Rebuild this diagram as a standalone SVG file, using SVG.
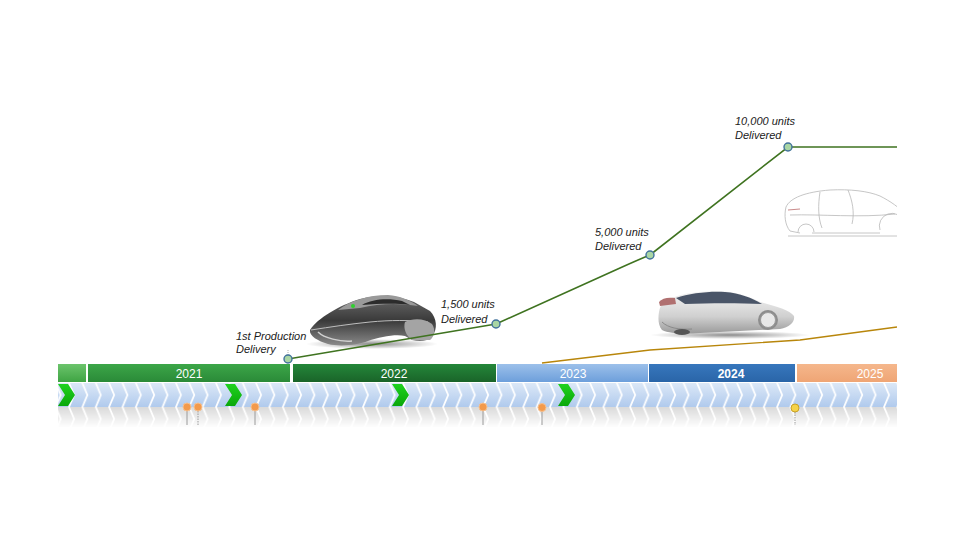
<svg xmlns="http://www.w3.org/2000/svg" width="980" height="551" viewBox="0 0 980 551">
<style>
.lbl{font-family:"Liberation Sans",Arial,sans-serif;font-style:italic;font-size:11px;fill:#1a1a1a}
.yr{font-family:"Liberation Sans",Arial,sans-serif;font-size:12px;fill:#ffffff;text-anchor:middle}
.ms{fill:#a9d6a4;stroke:#41719c;stroke-width:1.4}
.dot{fill:#f39a4c;stroke:#f6c08f;stroke-width:1}
.stem{stroke:#9a9a9a;stroke-width:1}
.sk{fill:none;stroke:#b8b8b8;stroke-width:0.8}
</style>
<defs>
<linearGradient id="gChev" x1="0" y1="0" x2="0" y2="1">
<stop offset="0" stop-color="#dce8f7"/><stop offset="1" stop-color="#b0caed"/>
</linearGradient>
<linearGradient id="gGreen" x1="0" y1="0" x2="0" y2="1">
<stop offset="0" stop-color="#1fd21f"/><stop offset="1" stop-color="#0aa70a"/>
</linearGradient>
<linearGradient id="g0" x1="0" y1="0" x2="0" y2="1"><stop offset="0" stop-color="#6cc46c"/><stop offset="1" stop-color="#3fa443"/></linearGradient>
<linearGradient id="g21" x1="0" y1="0" x2="0" y2="1"><stop offset="0" stop-color="#3ca648"/><stop offset="1" stop-color="#2a8a38"/></linearGradient>
<linearGradient id="g22" x1="0" y1="0" x2="0" y2="1"><stop offset="0" stop-color="#24873a"/><stop offset="1" stop-color="#1a6429"/></linearGradient>
<linearGradient id="g23" x1="0" y1="0" x2="0" y2="1"><stop offset="0" stop-color="#9cc0ea"/><stop offset="1" stop-color="#6d9fdb"/></linearGradient>
<linearGradient id="g24" x1="0" y1="0" x2="0" y2="1"><stop offset="0" stop-color="#3777bd"/><stop offset="1" stop-color="#2a65a8"/></linearGradient>
<linearGradient id="g25" x1="0" y1="0" x2="0" y2="1"><stop offset="0" stop-color="#f5b78c"/><stop offset="1" stop-color="#efa575"/></linearGradient>
<linearGradient id="fade" x1="0" y1="0" x2="0" y2="1"><stop offset="0" stop-color="#fff" stop-opacity="1"/><stop offset="1" stop-color="#fff" stop-opacity="0"/></linearGradient>
<mask id="mFade"><rect x="0" y="406" width="980" height="22" fill="url(#fade)"/></mask>
<pattern id="pChev" patternUnits="userSpaceOnUse" x="70" y="383" width="13.36" height="24">
<path d="M0,0 H11.5 L16.5,12 L11.5,24 H0 L5,12 Z" fill="url(#gChev)"/>
<path d="M-13.36,0 H-1.86 L3.14,12 L-1.86,24 H-13.36 L-8.36,12 Z" fill="url(#gChev)"/>
</pattern>
<pattern id="pRef" patternUnits="userSpaceOnUse" x="70" y="407" width="13.36" height="24">
<path d="M0,24 H11.5 L16.5,12 L11.5,0 H0 L5,12 Z" fill="#d8d8d8"/>
<path d="M-13.36,24 H-1.86 L3.14,12 L-1.86,0 H-13.36 L-8.36,12 Z" fill="#d8d8d8"/>
</pattern>
<linearGradient id="gCar1" x1="0" y1="0" x2="0" y2="1"><stop offset="0" stop-color="#6a6a6a"/><stop offset="0.5" stop-color="#3a3a3a"/><stop offset="1" stop-color="#8a8a8a"/></linearGradient>
<linearGradient id="gCar2" x1="0" y1="0" x2="0" y2="1"><stop offset="0" stop-color="#f4f4f4"/><stop offset="0.6" stop-color="#d0d0d0"/><stop offset="1" stop-color="#9a9a9a"/></linearGradient>
<radialGradient id="gShadow"><stop offset="0" stop-color="#000" stop-opacity="0.45"/><stop offset="1" stop-color="#000" stop-opacity="0"/></radialGradient>
<clipPath id="cR"><rect x="0" y="0" width="897" height="551"/></clipPath>
</defs>
<rect width="980" height="551" fill="#ffffff"/>

<!-- year bar -->
<g id="yearbar">
<rect x="58" y="364" width="28" height="18" fill="url(#g0)"/>
<rect x="88" y="364" width="202" height="18" fill="url(#g21)"/>
<rect x="293" y="364" width="203" height="18" fill="url(#g22)"/>
<rect x="497" y="364" width="151" height="18" fill="url(#g23)"/>
<rect x="649" y="364" width="146" height="18" fill="url(#g24)"/>
<rect x="797" y="364" width="100" height="18" fill="url(#g25)"/>
<text class="yr" x="189" y="377.5">2021</text>
<text class="yr" x="394" y="377.5">2022</text>
<text class="yr" x="573" y="377.5">2023</text>
<text class="yr" x="731" y="378" font-weight="bold" font-size="12.5">2024</text>
<text class="yr" x="870" y="378" font-size="13">2025</text>
</g>

<!-- chevron band -->
<g id="chevrons">
<rect x="58" y="383" width="839" height="24" fill="url(#pChev)"/>
<rect x="58" y="407" width="839" height="20" fill="url(#pRef)" mask="url(#mFade)"/>
<path d="M58,384 H68 L75,395 L68,406 H58 L65,395 Z" fill="url(#gGreen)"/>
<path d="M225,384 H235 L242,395 L235,406 H225 L232,395 Z" fill="url(#gGreen)"/>
<path d="M392,384 H402 L409,395 L402,406 H392 L399,395 Z" fill="url(#gGreen)"/>
<path d="M558,384 H568 L575,395 L568,406 H558 L565,395 Z" fill="url(#gGreen)"/>
</g>

<!-- event markers -->
<g id="events">
<line class="stem" x1="187" y1="411" x2="187" y2="425"/>
<line class="stem" x1="198" y1="411" x2="198" y2="425" stroke-dasharray="1.5,1"/>
<line class="stem" x1="255" y1="411" x2="255" y2="425"/>
<line class="stem" x1="483" y1="411" x2="483" y2="425"/>
<line class="stem" x1="542" y1="411" x2="542" y2="425"/>
<line class="stem" x1="795" y1="412" x2="795" y2="425" stroke-dasharray="1.5,1"/>
<circle class="dot" cx="187" cy="407" r="4"/>
<circle class="dot" cx="198" cy="407" r="4"/>
<circle class="dot" cx="255" cy="407" r="4"/>
<circle class="dot" cx="483" cy="407" r="4"/>
<circle class="dot" cx="542" cy="407.5" r="4"/>
<circle cx="795" cy="408" r="4" fill="#f5d34a" stroke="#c9a227" stroke-width="1"/>
</g>

<!-- cars (pictures) -->
<g id="car1">
<ellipse cx="372" cy="344" rx="66" ry="5" fill="url(#gShadow)"/>
<path d="M310,330 C318,318 338,306 360,299 C378,294 398,295 414,302 L430,311 C437,318 438,329 432,337 C428,341 420,342 412,340 L405,336 C395,334 380,337 368,341 C358,345 340,347 328,344 C318,341 309,336 310,330 Z" fill="url(#gCar1)"/>
<path d="M338,310 C350,301 368,295 388,295 C400,296 410,300 418,306 C400,303 380,303 360,308 Z" fill="#9a9a9a"/>
<path d="M362,305 C372,299 388,298 402,301 L410,305 C395,303 378,304 362,305 Z" fill="#2c2c2c"/>
<path d="M311,330 C330,327 350,324 370,322 C390,320 410,320 428,322" fill="none" stroke="#bdbdbd" stroke-width="1"/>
<path d="M405,322 C412,318 425,318 432,324 C436,330 434,337 430,340 L412,340 C406,336 403,328 405,322 Z" fill="#a4a4a4"/>
<path d="M318,332 C324,338 340,342 352,341" fill="none" stroke="#d0d0d0" stroke-width="1.5"/>
<circle cx="353" cy="306" r="2" fill="#2fd02f"/>
</g>

<g id="car2">
<ellipse cx="730" cy="335" rx="80" ry="4" fill="url(#gShadow)"/>
<path d="M659,312 C660,305 664,300 672,298 C684,293 700,291 718,291 C735,291 748,296 760,302 C775,306 790,310 794,316 C795,322 790,327 780,329 L700,333 C686,334 670,334 662,330 C658,325 658,318 659,312 Z" fill="url(#gCar2)"/>
<path d="M676,298 C690,293 710,291 725,292 C740,293 752,298 762,304 C740,303 710,303 685,304 Z" fill="#4a5568"/>
<path d="M659,302 C662,298 668,297 675,298 L676,304 L660,306 Z" fill="#b07070"/>
<circle cx="768" cy="320" r="10" fill="#8d8d8d"/>
<circle cx="768" cy="320" r="7.5" fill="#e8e8e8" stroke="#9a9a9a" stroke-width="1"/>
<path d="M662,322 C668,328 680,330 692,329" fill="none" stroke="#8a8a8a" stroke-width="1"/>
<ellipse cx="682" cy="332" rx="8" ry="3" fill="#555"/>
</g>

<g id="car3" clip-path="url(#cR)">
<path class="sk" d="M786,207 C790,198 805,192 830,190 C850,189 868,191 880,196 C890,201 900,208 905,214"/>
<path class="sk" d="M786,207 C784,215 785,225 790,231 L800,233"/>
<path class="sk" d="M812,233 L880,233"/>
<path class="sk" d="M798,232 A8,8 0 0 1 814,232"/>
<path class="sk" d="M880,230 A12,12 0 0 1 904,222"/>
<path class="sk" d="M820,192 C818,205 818,218 822,228"/>
<path class="sk" d="M848,190 C852,200 855,212 852,224"/>
<path class="sk" d="M790,215 C820,214 860,218 895,214"/>
<path class="sk" d="M788,236 L900,236"/>
<path d="M788,210 L800,209" stroke="#c98a8a" stroke-width="1"/>
</g>

<!-- connectors -->
<g id="connectors" fill="none">
<path d="M288,359 L496,324 L620,268 Q640,259 650,255 L788,147 L897,147" stroke="#3f7320" stroke-width="1.6"/>
<path d="M542,363 L650,350 L800,340 L897,327" stroke="#b8860b" stroke-width="1.4"/>
<line x1="288" y1="350" x2="288" y2="355" stroke="#999" stroke-width="0.8" stroke-dasharray="1,1"/>
</g>

<!-- milestones -->
<g id="m1">
<circle class="ms" cx="288" cy="359" r="4"/>
<text class="lbl" x="236" y="340">1st Production</text>
<text class="lbl" x="236" y="353">Delivery</text>
</g>
<g id="m2">
<circle class="ms" cx="496" cy="324" r="4"/>
<text class="lbl" x="441" y="308">1,500 units</text>
<text class="lbl" x="441" y="323">Delivered</text>
</g>
<g id="m3">
<circle class="ms" cx="650" cy="255" r="4"/>
<text class="lbl" x="595" y="236">5,000 units</text>
<text class="lbl" x="595" y="250">Delivered</text>
</g>
<g id="m4">
<circle class="ms" cx="788" cy="147" r="4"/>
<text class="lbl" x="735" y="125">10,000 units</text>
<text class="lbl" x="735" y="139">Delivered</text>
</g>
</svg>
